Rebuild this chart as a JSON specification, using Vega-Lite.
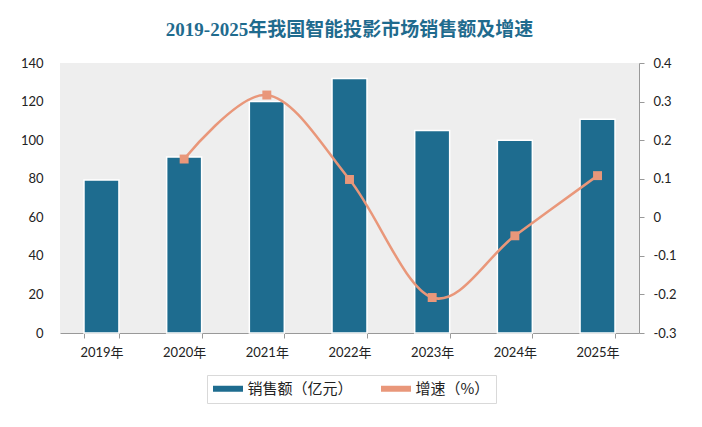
{
  "$schema": "https://vega.github.io/schema/vega-lite/v6.json",
  "width": 579,
  "height": 270,
  "autosize": "none",
  "padding": {"left": 60, "top": 63, "right": 63, "bottom": 94},
  "background": "white",
  "title": {
    "text": "2019-2025年我国智能投影市场销售额及增速",
    "font": "Liberation Serif, Noto Sans CJK SC",
    "fontSize": 19,
    "fontWeight": "bold",
    "color": "#1f6b8e",
    "anchor": "middle",
    "offset": 17
  },
  "config": {
    "view": {"fill": "#eeeeee", "stroke": null},
    "axis": {"labelFont": "Lato, Noto Sans CJK SC", "labelFontSize": 13, "labelColor": "#222", "grid": false}
  },
  "data": {
    "values": [
      {"year": "2019年", "sales": 79.3, "growth": null},
      {"year": "2020年", "sales": 91.2, "growth": 0.151},
      {"year": "2021年", "sales": 120.1, "growth": 0.317},
      {"year": "2022年", "sales": 132.0, "growth": 0.098},
      {"year": "2023年", "sales": 105.0, "growth": -0.208},
      {"year": "2024年", "sales": 100.0, "growth": -0.048},
      {"year": "2025年", "sales": 110.8, "growth": 0.108}
    ]
  },
  "encoding": {
    "x": {
      "field": "year",
      "type": "ordinal",
      "title": null,
      "scale": {"paddingInner": 0.577, "paddingOuter": 0.29},
      "axis": {
        "labelAngle": 0,
        "domainColor": "#999",
        "tickColor": "#999",
        "tickBand": "extent",
        "tickSize": 5,
        "labelPadding": 8
      }
    }
  },
  "layer": [
    {
      "mark": {"type": "bar", "stroke": "white", "strokeWidth": 1.5},
      "encoding": {
        "y": {
          "field": "sales",
          "type": "quantitative",
          "title": null,
          "scale": {"domain": [0, 140]},
          "axis": {"values": [0, 20, 40, 60, 80, 100, 120, 140], "domain": false, "ticks": false, "labelPadding": 17}
        },
        "color": {
          "datum": "销售额（亿元）",
          "type": "nominal",
          "scale": {"domain": ["销售额（亿元）", "增速（%）"], "range": ["#1e6c8f", "#e9977a"]},
          "legend": {
            "title": null,
            "orient": "none",
            "legendX": 147,
            "legendY": 312,
            "direction": "horizontal",
            "strokeColor": "#d9d9d9",
            "padding": 6,
            "labelFont": "Noto Sans CJK SC",
            "labelFontSize": 15,
            "labelColor": "#222",
            "labelOffset": 12,
            "symbolType": "M-2,-0.4H2V0.4H-2Z",
            "symbolSize": 225,
            "symbolOffset": 7.5,
            "symbolStrokeWidth": 0,
            "columnPadding": 28
          }
        }
      }
    },
    {
      "mark": {"type": "line", "interpolate": "cardinal", "strokeWidth": 2.5, "point": {"shape": "square", "size": 80, "filled": true, "opacity": 1}},
      "transform": [{"filter": "datum.growth != null"}],
      "encoding": {
        "y": {
          "field": "growth",
          "type": "quantitative",
          "title": null,
          "scale": {"domain": [-0.3, 0.4]},
          "axis": {
            "orient": "right",
            "values": [-0.3, -0.2, -0.1, 0, 0.1, 0.2, 0.3, 0.4],
            "labelExpr": "toString(round(datum.value * 10) / 10)",
            "domainColor": "#999",
            "tickColor": "#999",
            "tickSize": 5,
            "labelPadding": 9
          }
        },
        "color": {"datum": "增速（%）", "type": "nominal"}
      }
    }
  ],
  "resolve": {"scale": {"y": "independent"}}
}
